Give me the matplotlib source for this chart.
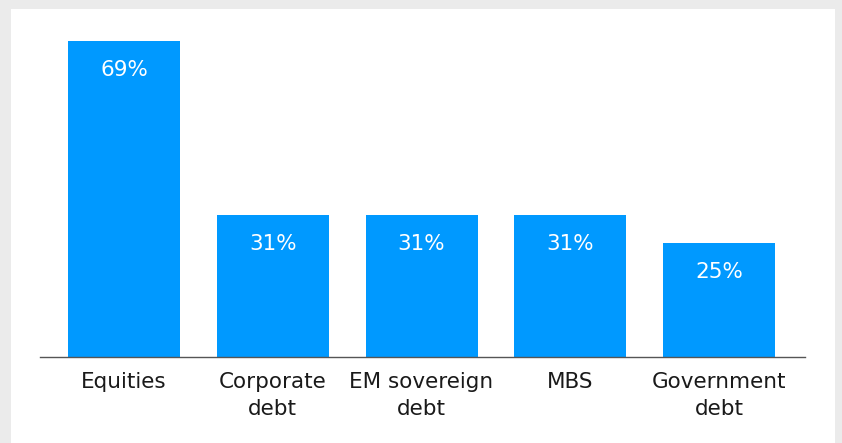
import matplotlib.pyplot as plt
from matplotlib.patches import Rectangle

categories = ['Equities', 'Corporate\ndebt', 'EM sovereign\ndebt', 'MBS', 'Government\ndebt']
values = [69, 31, 31, 31, 25]

W, H = 842, 443
fig = plt.figure(figsize=(W / 100, H / 100), dpi=100)
fig.patch.set_facecolor('#ebebeb')
# white panel, kept behind the axes
fig.add_artist(Rectangle((11 / W, 0), (835 - 11) / W, (H - 9) / H,
                         transform=fig.transFigure, facecolor='white',
                         edgecolor='none', zorder=-5))

ax = fig.add_axes([40 / W, 86 / H, (805 - 40) / W, 343.5 / H])
ax.set_facecolor('none')

x = range(len(categories))
ax.bar(x, values, width=0.753, color='#0099ff', zorder=2)

for xi, v in zip(x, values):
    ax.annotate(f'{v}%', (xi, v), xytext=(0, -21), textcoords='offset points',
                ha='center', va='center', color='white', fontsize=15.5)

ax.set_xlim(-0.565, 4.578)
ax.set_ylim(0, 75)
ax.set_xticks(list(x))
ax.set_xticklabels(categories, fontsize=15.5, color='#1a1a1a', linespacing=1.45)
ax.tick_params(axis='x', length=0, pad=11)
ax.set_yticks([])
for s in ['top', 'left', 'right']:
    ax.spines[s].set_visible(False)
ax.spines['bottom'].set_color('#555555')
ax.spines['bottom'].set_linewidth(1)
ax.spines['bottom'].set_zorder(3)

fig.savefig('out.png', dpi=100, facecolor=fig.get_facecolor())
